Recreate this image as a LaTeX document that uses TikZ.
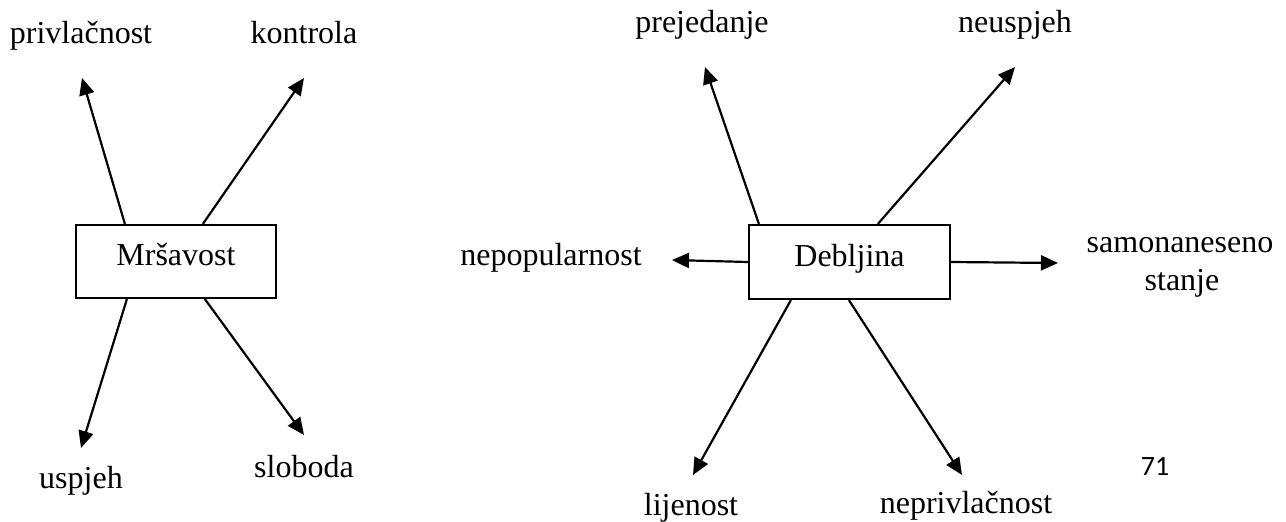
\documentclass[tikz,border=0pt]{standalone}
\usepackage{fontspec}
\setmainfont{Liberation Serif}
\newfontfamily\numfont{Carlito}
\usetikzlibrary{arrows.meta}
\begin{document}
\begin{tikzpicture}[x=1pt,y=-1pt,
  lbl/.style={anchor=base, inner sep=0pt, font=\fontsize{32}{38}\selectfont},
  box/.style={draw, line width=2.2pt, minimum width=200pt, minimum height=73pt,
              inner sep=0pt, text height=22pt, text depth=14pt,
              font=\fontsize{32}{38}\selectfont},
  arr/.style={line width=2.2pt, -{Triangle[length=17pt,width=15pt]}}]
\useasboundingbox (0,0) rectangle (1286,522);

% central boxes
\node[box] (mrs) at (176,261.5) {Mršavost};
\node[box, minimum width=201pt, minimum height=74pt] (deb) at (849.5,262) {Debljina};

% labels
\node[lbl] (privl) at (81,43) {privlačnost};
\node[lbl] (kontr) at (304,43) {kontrola};
\node[lbl] (uspj) at (81,488) {uspjeh};
\node[lbl] (slob) at (304,477) {sloboda};
\node[lbl] (prej) at (702,32) {prejedanje};
\node[lbl] (neusp) at (1015,32) {neuspjeh};
\node[lbl] (nepop) at (551,265) {nepopularnost};
\node[lbl] (samon) at (1180,252) {samonaneseno};
\node[lbl] (stanje) at (1182,290) {stanje};
\node[lbl] (lijen) at (691,515) {lijenost};
\node[lbl] (nepriv) at (966,513) {neprivlačnost};
\node[anchor=base, inner sep=0pt, font=\numfont\fontsize{28}{34}\selectfont] (page) at (1155,475) {71};

% arrow tips
\coordinate (tPriv) at (82,78);
\coordinate (tKontr) at (304,78);
\coordinate (tUspj) at (81,448);
\coordinate (tSlob) at (304,435);
\coordinate (tPrej) at (705,67);
\coordinate (tNeusp) at (1015,67);
\coordinate (tNepop) at (672,260);
\coordinate (tSamon) at (1058,263);
\coordinate (tLijen) at (693,475);
\coordinate (tNepriv) at (962,475);

% connectors
\draw[arr] ([xshift=50pt]mrs.north west) -- (tPriv);
\draw[arr] ([xshift=128pt]mrs.north west) -- (tKontr);
\draw[arr] ([xshift=52pt]mrs.south west) -- (tUspj);
\draw[arr] ([xshift=130pt]mrs.south west) -- (tSlob);

\draw[arr] ([xshift=11pt]deb.north west) -- (tPrej);
\draw[arr] ([xshift=130pt]deb.north west) -- (tNeusp);
\draw[arr] (deb.west) -- (tNepop);
\draw[arr] (deb.east) -- (tSamon);
\draw[arr] ([xshift=43pt]deb.south west) -- (tLijen);
\draw[arr] ([xshift=101pt]deb.south west) -- (tNepriv);
\end{tikzpicture}
\end{document}
